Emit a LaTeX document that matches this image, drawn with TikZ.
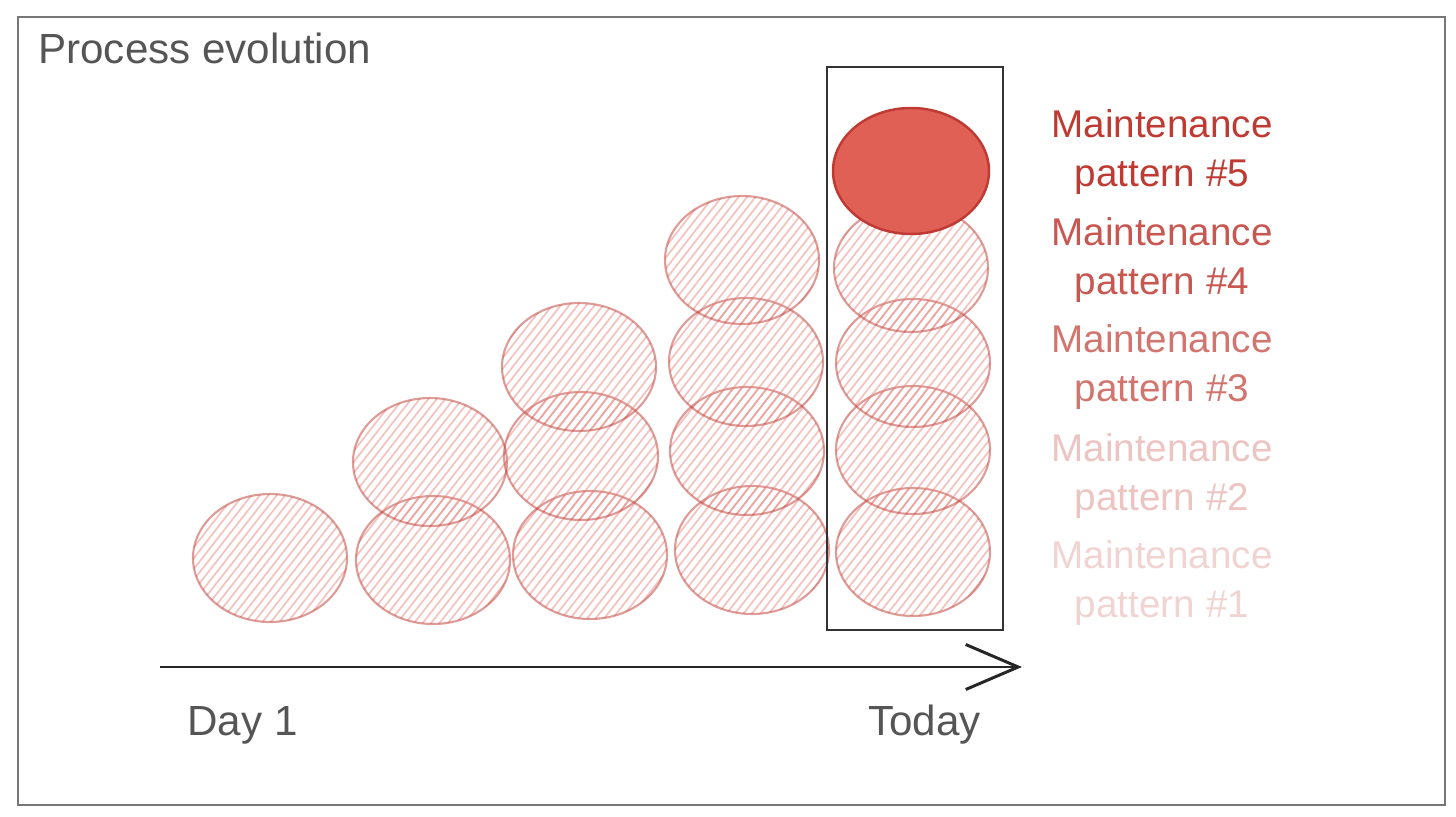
\documentclass[tikz,border=0pt]{standalone}
\usepackage{fontspec}
\setmainfont{Liberation Sans}
\usetikzlibrary{arrows.meta,patterns.meta}
\definecolor{mred}{RGB}{224,96,86}
\definecolor{mdark}{RGB}{190,58,50}
\definecolor{inkgray}{RGB}{85,85,85}
\tikzset{
  hatched/.style={draw=mdark, draw opacity=0.5, line width=1.2pt,
    pattern={Lines[angle=52,distance=3.8pt,line width=1pt]}, pattern color=mred!75, fill opacity=0.7},
  fullcirc/.style={draw=mdark, line width=1.4pt, fill=mred},
  patlabel/.style={font=\fontsize{22}{28}\selectfont, align=center},
  handtext/.style={font=\fontsize{24}{28}\selectfont, text=inkgray, inner sep=0pt}
}
\begin{document}
\begin{tikzpicture}[x=0.02cm,y=-0.02cm]
                \useasboundingbox (0,0) rectangle (1456,817);
                % the frame
                \draw[inkgray!80, line width=1.3pt] (18,17) rectangle (1445,805);
                \node[handtext, anchor=base west] (title) at (38,64) {Process evolution};

                % the stacks, bottom to top
                \foreach \cx/\cy in {270/558, 433/560, 430/462, 590/555, 581/456, 579/367,
                                     752/550, 747/451, 746/362, 742/260,
                                     913/552, 913/450, 913/363, 911/268}
                  \draw[hatched] (\cx,\cy) ellipse [x radius=77, y radius=64];
                \draw[fullcirc] (911,171) ellipse [x radius=78, y radius=63];

                % today
                \draw[black!80, line width=1.6pt] (827,67) rectangle (1003,630);

                % the time axis
                \coordinate (t0) at (160,667);
                \coordinate (t1) at (1022,667);
                \draw[black!85, line width=1.7pt, -{Straight Barb[length=1.05cm,width=0.9cm,line width=1.7pt]}] (t0) -- (t1);
                \node[handtext, anchor=base west] (day1) at (187,735) {Day 1};
                \node[handtext, anchor=base west] (today) at (868,735) {Today};

                % labels
                \node[patlabel, text=mdark]          (lab5) at (1162,152) {Maintenance\\pattern \#5};
                \node[patlabel, text=mdark!85]       (lab4) at (1162,260) {Maintenance\\pattern \#4};
                \node[patlabel, text=mdark!70]       (lab3) at (1162,367) {Maintenance\\pattern \#3};
                \node[patlabel, text=mdark!30]       (lab2) at (1162,476) {Maintenance\\pattern \#2};
                \node[patlabel, text=mdark!22]       (lab1) at (1162,583) {Maintenance\\pattern \#1};
              \end{tikzpicture}
\end{document}
